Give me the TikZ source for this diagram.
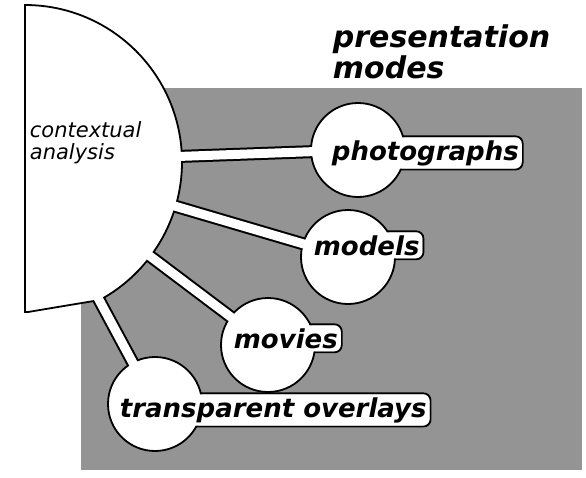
\documentclass[tikz,border=0pt]{standalone}
\usepackage{fontspec}
\newfontfamily\kezi{DejaVu Sans}
\usetikzlibrary{backgrounds}
\definecolor{raszter}{gray}{0.58}
\tikzset{
  kor/.style={circle,draw,fill=white,minimum size=94pt,inner sep=0pt},
  cimke/.style={fill=white,inner sep=3pt,rounded corners=7pt,anchor=base west,
    font=\kezi\bfseries\itshape\fontsize{26}{28}\selectfont},
  keret/.style={draw,rounded corners=7pt},
  savk/.style={line width=13pt,shorten <=100pt},
  savb/.style={line width=9pt,white,shorten <=150pt,shorten >=-3pt},
}

\begin{document}
\begin{tikzpicture}[x=1pt,y=-1pt,line width=1.8pt]
  \useasboundingbox (0,0) rectangle (586,477);
  \coordinate (kp) at (25,162);
  \node[kor] (foto) at (358,150) {};
  \node[kor] (modell) at (348,257) {};
  \node[kor] (film) at (268,345) {};
  \node[kor] (folia) at (155,404) {};
  \node[cimke] (fotof) at (328,160) {photographs};
  \node[cimke] (modellf) at (310,255) {models};
  \node[cimke] (filmf) at (230,348) {movies};
  \node[cimke] (foliaf) at (116,417) {transparent overlays};
  \foreach \m in {foto,modell,film,folia}
    \draw[savb] (kp) -- (\m);
  \node[anchor=north west,align=left,inner sep=0pt,
    font=\kezi\itshape\fontsize{21}{22}\selectfont] (ctx) at (29,121) {contextual\\analysis};
  \node[anchor=north west,align=left,inner sep=0pt,
    font=\kezi\bfseries\itshape\fontsize{30}{31}\selectfont] (cim) at (332,24) {presentation\\modes};
  \begin{pgfonlayer}{background}
  \begin{scope}[line width=1.8pt]
    \fill[raszter] (81,88) rectangle (582,470);
    \foreach \m in {foto,modell,film,folia}
      \draw[savk] (kp) -- (\m.center);
    \filldraw[fill=white] (25,312) -- (25,5) arc[start angle=-90,end angle=61.5,radius=157] -- (28,312) -- cycle;
    \foreach \m in {fotof,modellf,filmf,foliaf}
      \draw[keret] (\m.south west) rectangle (\m.north east);
  \end{scope}
  \end{pgfonlayer}
\end{tikzpicture}
\end{document}
